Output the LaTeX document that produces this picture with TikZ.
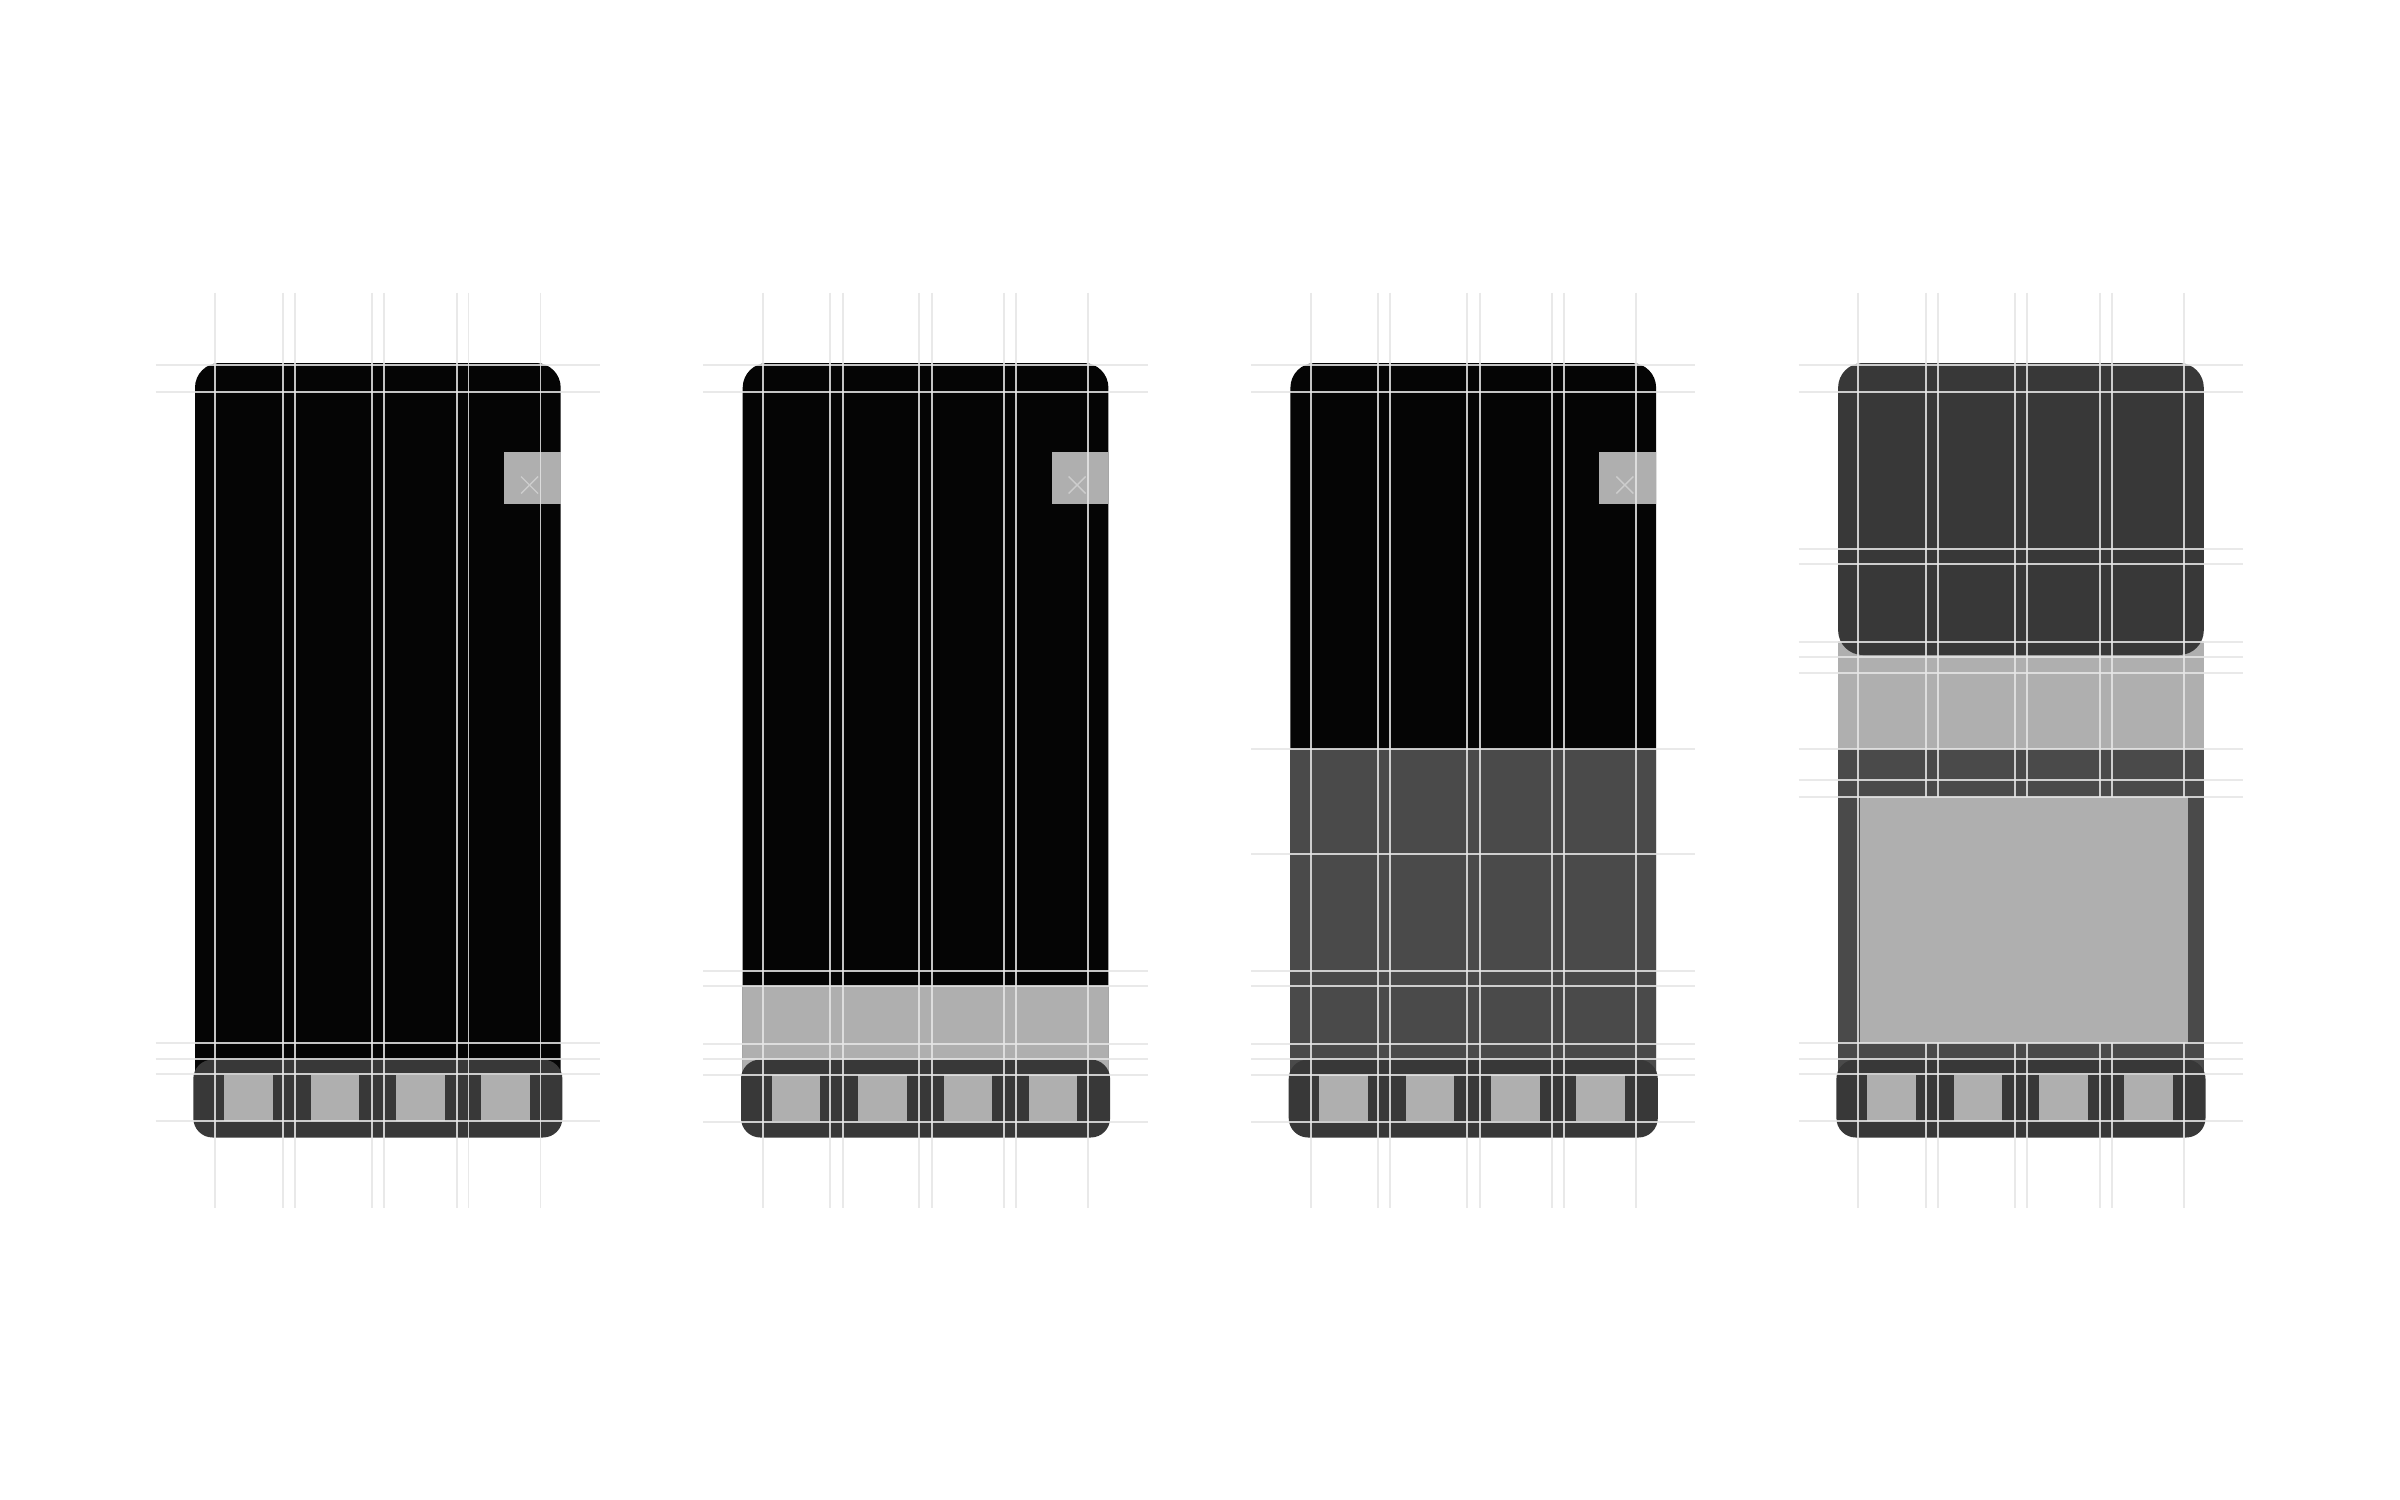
\documentclass[tikz,border=0pt]{standalone}
\usepackage{tikz}
\usepackage{xcolor}

\definecolor{screen}{HTML}{050505}
\definecolor{navbar}{HTML}{383838}
\definecolor{sheet}{HTML}{4A4A4A}
\definecolor{slot}{HTML}{AFAFAF}
\definecolor{guide}{HTML}{E6E6E6}
\definecolor{cross}{HTML}{CDCDCD}

\begin{document}
\begin{tikzpicture}[x=0.01cm, y=-0.01cm,
    guide/.style={draw=guide, draw opacity=0.85, line width=0.55pt},
    closemark/.style={draw=cross, line width=0.4pt}]
    \useasboundingbox[fill=white] (0,0) rectangle (2400,1500);

    % Screens
    \fill[screen, rounded corners=7pt] (195,363) rectangle (560.7,1110);
    \fill[screen, rounded corners=7pt] (742.7,363) rectangle (1108.4,1110);
    \fill[slot] (742.7,986) rectangle (1108.4,1090);
    \fill[screen, rounded corners=7pt] (1290.4,363) rectangle (1656.1,1110);
    \fill[sheet] (1290.4,749) rectangle (1656.1,1090);
    \fill[slot] (1838.1,641) rectangle (2203.8,749);
    \fill[sheet] (1838.1,749) rectangle (2203.8,1090);
    \fill[navbar, rounded corners=7pt] (1838.1,363) rectangle (2203.8,655);

    % Close buttons
    \foreach \L in {195,742.7,1290.4} {
        \fill[slot] (\L+309,452) rectangle (\L+365.7,503.5);
        \draw[closemark] (\L+326,476.5) -- (\L+343,493.5);
        \draw[closemark] (\L+343,476.5) -- (\L+326,493.5);
    }

    % Tab bars and column guides
    \foreach \L in {195,742.7,1290.4,1838.1} {
        \fill[navbar, rounded corners=5.5pt] (\L-1.7,1059.5) rectangle (\L+367.4,1137.5);
        \foreach \t in {29,115.5,201,286}
            \fill[slot] (\L+\t,1075) rectangle ++(48.5,46);
        \foreach \g in {20.3,87.7,100,176.7,189.3,261.7,273.5,345.5}
            \draw[guide] (\L+\g,292.7) -- (\L+\g,1207.7);
    }

    % Content block
    \fill[slot] (1859.5,796.7) rectangle (2187.5,1043.3);

    % Row guides
    \foreach \L/\rows in {195/{365,391.7,1043.3,1059.3,1074.3,1121},
                          742.7/{365,391.7,971,986,1043.7,1059,1074.7,1121.7},
                          1290.4/{365,391.7,749,854,971,986,1043.7,1059,1074.7,1121.7},
                          1838.1/{365,391.7,549.3,564.3,641.7,656.7,672.7,749,780,796.7,1043.3,1059,1074.3,1121}} {
        \foreach \y in \rows
            \draw[guide] (\L-39.3,\y) -- (\L+405,\y);
    }
\end{tikzpicture}
\end{document}
